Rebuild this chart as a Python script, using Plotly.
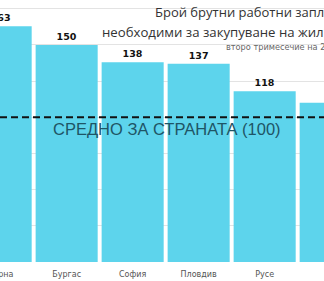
import plotly.graph_objects as go

cities = ["Варна", "Бургас", "София", "Пловдив", "Русе", "Стара Загора"]
salaries = [163, 150, 138, 137, 118, 110]
average_value = 100
title_line1 = "Брой брутни работни заплати"
title_line2 = "необходими за закупуване на жилище"
subtitle = "второ тримесечие на 2016 г."
avg_label = "СРЕДНО ЗА СТРАНАТА (100)"

fig = go.Figure()
fig.add_trace(go.Bar(
    x=cities, y=salaries,
    marker=dict(color="#5DD4EC", line=dict(width=0)),
    text=salaries, texttemplate="<b>%{text}</b>",
    textposition="outside", cliponaxis=False,
    textfont=dict(family="DejaVu Sans", size=9.5, color="#111"),
))

fig.add_shape(type="line", xref="paper", x0=0, x1=1, yref="y",
              y0=average_value, y1=average_value,
              line=dict(color="#111", width=2, dash="7px,4px"), layer="above")

fig.add_annotation(text=avg_label, xref="paper", yref="paper", x=0.515, y=0.506,
                   xanchor="center", yanchor="middle", showarrow=False,
                   font=dict(family="Liberation Sans", size=16.5, color="#1F5566"))
fig.add_annotation(text=title_line1, xref="paper", yref="paper", x=0.472, y=0.954,
                   xanchor="left", yanchor="middle", showarrow=False,
                   font=dict(family="Open Sans", size=13, color="#333"))
fig.add_annotation(text=title_line2, xref="paper", yref="paper", x=0.309, y=0.878,
                   xanchor="left", yanchor="middle", showarrow=False,
                   font=dict(family="Open Sans", size=13.2, color="#333"))
fig.add_annotation(text=subtitle, xref="paper", yref="paper", x=0.691, y=0.821,
                   xanchor="left", yanchor="middle", showarrow=False,
                   font=dict(family="DejaVu Sans", size=8.2, color="#666"))

fig.update_layout(
    width=324, height=281,
    margin=dict(l=0, r=0, t=0, b=19, autoexpand=False),
    paper_bgcolor="white", plot_bgcolor="white",
    bargap=0.06, showlegend=False,
    xaxis=dict(range=[-0.01, 4.899], showgrid=False, showline=False, zeroline=False,
               automargin=False, ticks="", ticklabelstandoff=6,
               tickfont=dict(family="DejaVu Sans", size=8, color="#555")),
    yaxis=dict(range=[0, 181.1], dtick=25, showgrid=True, gridcolor="#E3E3E3",
               automargin=False, gridwidth=1, zeroline=False,
               showticklabels=False, showline=False),
)

fig.write_html("out.html")
